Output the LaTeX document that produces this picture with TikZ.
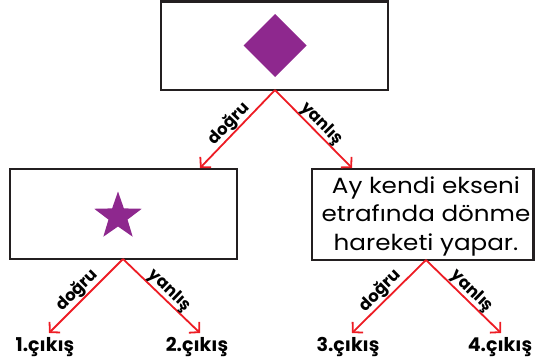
\documentclass[tikz,border=0pt]{standalone}
\usepackage{fontspec}
\setmainfont{Poppins}
\newfontfamily\widefont[FakeStretch=1.12]{Poppins}
\usetikzlibrary{arrows.meta,shapes.geometric}
\definecolor{arred}{RGB}{237,28,36}
\definecolor{boxline}{RGB}{35,31,32}
\definecolor{purp}{RGB}{142,40,142}
\tikzset{
  box/.style={draw=boxline, line width=2.8pt, fill=white},
  arr/.style={draw=arred, line width=1.8pt, -{Straight Barb[length=7pt,width=15pt,line width=1.8pt]}},
  lbl/.style={font=\bfseries\fontsize{16.5}{18}\selectfont, inner sep=0pt, pos=0.52, sloped, above},
  outlbl/.style={font=\bfseries\fontsize{19}{21}\selectfont, inner sep=0pt},
  boxtext/.style={font=\widefont\fontsize{22}{28.5}\selectfont, align=center, inner sep=0pt}
}
\begin{document}
\begin{tikzpicture}[x=1pt,y=-1pt]
\useasboundingbox (0,0) rectangle (536,364);
% boxes
\draw[box] (161,1.5) rectangle (388,90);
\draw[box] (10,169) rectangle (237,259);
\draw[box] (312,169) rectangle (533.5,260);
% anchors
\coordinate (topb) at (275,90);
\coordinate (leftb) at (123,259);
\coordinate (rightb) at (426,260);
\coordinate (t1) at (200,168);
\coordinate (t2) at (352,168);
\coordinate (e1) at (49,333);
\coordinate (e2) at (200,333);
\coordinate (e3) at (352,333);
\coordinate (e4) at (501,333);
% shapes
\fill[purp] (275,14) -- (306.5,45.5) -- (275,77) -- (243.5,45.5) -- cycle;
\node[star, star points=5, star point ratio=2.5, fill=purp, minimum size=50pt, inner sep=0pt] (starn) at (118,216.5) {};
\node[boxtext] (txt) at (426,216) {Ay kendi ekseni\\etrafında dönme\\hareketi yapar.};
% arrows
\draw[arr] (topb) -- node[lbl] {doğru} (t1);
\draw[arr] (topb) -- node[lbl] {yanlış} (t2);
\draw[arr] (leftb) -- node[lbl] {doğru} (e1);
\draw[arr] (leftb) -- node[lbl] {yanlış} (e2);
\draw[arr] (rightb) -- node[lbl] {doğru} (e3);
\draw[arr] (rightb) -- node[lbl] {yanlış} (e4);
% outputs
\node[outlbl] (o1) at (45,347) {1.çıkış};
\node[outlbl] (o2) at (197,347) {2.çıkış};
\node[outlbl] (o3) at (348,347) {3.çıkış};
\node[outlbl] (o4) at (500,347) {4.çıkış};
\end{tikzpicture}
\end{document}
